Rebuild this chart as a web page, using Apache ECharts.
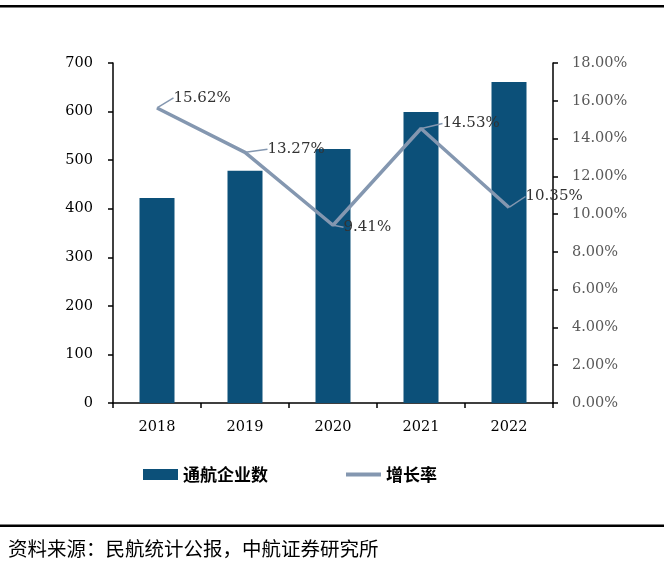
<!DOCTYPE html>
<html>
<head>
<meta charset="utf-8">
<script src="https://cdn.jsdelivr.net/npm/echarts@6/dist/echarts.min.js"></script>
<style>
html,body{margin:0;padding:0;background:#fff;}
#chart{width:664px;height:566px;}
</style>
</head>
<body>
<div id="chart"></div>
<script>
const categories = ['2018', '2019', '2020', '2021', '2022'];
const companyCounts = [422, 478, 523, 599, 661];
const growthRates = [15.62, 13.27, 9.41, 14.53, 10.35];
const leftTicks = {min: 0, max: 700, interval: 100};
const rightTicks = {min: 0, max: 18, interval: 2};
const labelOffsets = [[11, -10], [17, -3], [5, 2], [16, -5], [11, -11]];

const chart = echarts.init(document.getElementById('chart'), null, {renderer: 'canvas'});
const serif = 'DejaVu Serif';
chart.setOption({
  animation: false,
  backgroundColor: '#ffffff',
  grid: {left: 113, right: 111, top: 63, bottom: 163},
  legend: {
    left: 138, top: 461,
    itemWidth: 35, itemHeight: 11, itemGap: 78,
    textStyle: {fontFamily: 'Noto Sans CJK SC', fontSize: 17, color: '#000', fontWeight: 'bold'},
    data: [{name: '通航企业数', icon: 'rect'},
           {name: '增长率', icon: 'path://M0,0L37,0L37,4L0,4Z'}]
  },
  xAxis: {
    type: 'category', data: categories,
    axisLine: {lineStyle: {color: '#000', width: 1.5}},
    axisTick: {show: true, length: 5, lineStyle: {color: '#000', width: 1.5}},
    axisLabel: {margin: 17, fontFamily: serif, fontSize: 14.5, color: '#000'}
  },
  yAxis: [{
    type: 'value', min: leftTicks.min, max: leftTicks.max, interval: leftTicks.interval,
    axisLine: {show: true, lineStyle: {color: '#000', width: 1.5}},
    axisTick: {show: true, length: 5, lineStyle: {color: '#000', width: 1.5}},
    splitLine: {show: false},
    axisLabel: {margin: 20, fontFamily: serif, fontSize: 14.5, color: '#000'}
  }, {
    type: 'value', min: rightTicks.min, max: rightTicks.max, interval: rightTicks.interval,
    position: 'right',
    axisLine: {show: true, lineStyle: {color: '#000', width: 1.5}},
    axisTick: {show: true, length: 5, lineStyle: {color: '#000', width: 1.5}},
    splitLine: {show: false},
    axisLabel: {margin: 19, fontFamily: serif, fontSize: 14.5, color: '#595959',
      formatter: v => v.toFixed(2) + '%'}
  }],
  series: [{
    name: '通航企业数', type: 'bar', data: companyCounts, barWidth: 35,
    itemStyle: {color: '#0c5079'}
  }, {
    name: '增长率', type: 'line', yAxisIndex: 1, data: growthRates,
    symbol: 'circle', symbolSize: 1, showSymbol: true,
    lineStyle: {color: '#8497b0', width: 3.5},
    itemStyle: {color: '#8497b0'},
    label: {show: true, position: 'right', distance: 5, fontFamily: serif, fontSize: 15, color: '#333333',
      formatter: p => p.value.toFixed(2) + '%'},
    labelLayout: p => ({dx: labelOffsets[p.dataIndex][0], dy: labelOffsets[p.dataIndex][1]}),
    labelLine: {show: true, length2: 0, lineStyle: {color: '#8497b0', width: 1.5}}
  }],
  graphic: [
    {type: 'rect', shape: {x: 0, y: 5, width: 664, height: 2.5}, style: {fill: '#000'}},
    {type: 'rect', shape: {x: 0, y: 524.5, width: 664, height: 2.5}, style: {fill: '#000'}},
    {type: 'text', left: 8, top: 539, style: {text: '资料来源：民航统计公报，中航证券研究所',
      font: '19.5px "Noto Sans CJK SC"', fill: '#000'}}
  ]
});
</script>
</body>
</html>
